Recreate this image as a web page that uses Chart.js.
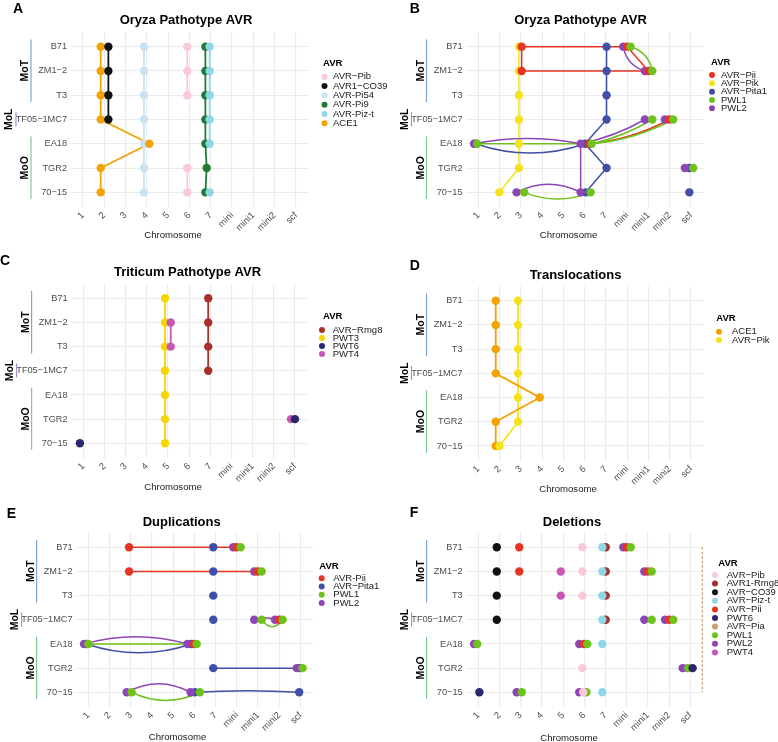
<!DOCTYPE html>
<html>
<head>
<meta charset="utf-8">
<script src="https://cdn.jsdelivr.net/npm/chart.js@4.4.1/dist/chart.umd.min.js"></script>
<style>
html,body{margin:0;padding:0;background:#fff}
#wrap{position:relative;width:778px;height:742px;overflow:hidden}
.panel{position:absolute}
</style>
</head>
<body>
<div id="wrap"></div>
<script>

// =============================
// SHARED AXES
// =============================

const isolates = ['B71','ZM1-2','T3','TF05-1MC7','EA18','TGR2','70-15']
const chromLabels = ['1','2','3','4','5','6','7','mini','mini1','mini2','scf']

const groupNames = ['MoT','MoL','MoO']
const groupFirst = [0,3,4]
const groupLast = [2,3,6]


// =============================
// A : ORYZA PATHOTYPE AVR (one position per isolate)
// =============================

const aPib  = [5.9,5.9,5.9,null,null,5.9,5.9]
const aCO39 = [2.2,2.2,2.2,2.2,null,null,null]
const aPi54 = [3.87,3.87,3.87,3.87,3.87,3.87,3.87]
const aPi9  = [6.75,6.75,6.75,6.75,6.75,6.81,6.75]
const aPizt = [6.95,6.95,6.95,6.95,6.95,null,6.95]
const aACE1 = [1.84,1.84,1.84,1.84,4.12,1.84,1.84]


// =============================
// B : ORYZA PATHOTYPE AVR (copies)
// =============================

const bPii = [['B71',3.04],['ZM1-2',3.04],['B71',8.0],['ZM1-2',9.0],['TF05-1MC7',9.98],['EA18',6.22]]
const bPik = [['B71',2.91],['ZM1-2',2.91],['T3',2.91],['TF05-1MC7',2.91],['EA18',2.91],['TGR2',2.91],['70-15',1.99]]
const bPita1 = [['B71',7.03],['ZM1-2',7.03],['T3',7.03],['TF05-1MC7',7.03],['EA18',0.87],['EA18',6.02],['TGR2',7.03],['TGR2',10.92],['70-15',6.05],['70-15',10.92]]
const bPWL1 = [['B71',8.16],['ZM1-2',9.18],['TF05-1MC7',9.18],['TF05-1MC7',10.16],['EA18',0.95],['EA18',6.33],['TGR2',11.1],['70-15',3.16],['70-15',6.28]]
const bPWL2 = [['B71',7.81],['ZM1-2',8.83],['TF05-1MC7',8.83],['TF05-1MC7',9.77],['EA18',0.8],['EA18',5.81],['TGR2',10.71],['70-15',2.8],['70-15',5.81]]

// [avr, from isolate, from chr, to isolate, to chr, bend]
const bLinks = [
['Pik','B71',2.91,'ZM1-2',2.91,0],
['Pik','ZM1-2',2.91,'T3',2.91,0],
['Pik','T3',2.91,'TF05-1MC7',2.91,0],
['Pik','TF05-1MC7',2.91,'EA18',2.91,0],
['Pik','EA18',2.91,'TGR2',2.91,0],
['Pik','TGR2',2.91,'70-15',1.99,0],
['Pita1','B71',7.03,'ZM1-2',7.03,0],
['Pita1','ZM1-2',7.03,'T3',7.03,0],
['Pita1','T3',7.03,'TF05-1MC7',7.03,0],
['Pita1','TF05-1MC7',7.03,'EA18',6.02,0],
['Pita1','EA18',6.02,'TGR2',7.03,0],
['Pita1','TGR2',7.03,'70-15',6.05,0],
['Pita1','EA18',0.87,'EA18',6.02,-0.17],
['Pii','B71',3.04,'B71',8.0,0],
['Pii','ZM1-2',3.04,'ZM1-2',9.0,0],
['Pii','B71',3.04,'ZM1-2',3.04,0],
['Pii','B71',8.0,'ZM1-2',9.0,0],
['Pii','EA18',6.22,'TF05-1MC7',9.98,-0.1],
['PWL1','B71',8.16,'ZM1-2',9.18,0.3],
['PWL1','EA18',0.95,'EA18',6.33,0],
['PWL1','70-15',3.16,'70-15',6.28,-0.2],
['PWL1','EA18',6.33,'TF05-1MC7',9.18,-0.08],
['PWL1','EA18',6.33,'TF05-1MC7',10.16,-0.1],
['PWL2','B71',7.81,'ZM1-2',8.83,-0.3],
['PWL2','EA18',0.8,'EA18',5.81,0.1],
['PWL2','70-15',2.8,'70-15',5.81,0.25],
['PWL2','EA18',5.81,'TF05-1MC7',8.83,-0.08],
['PWL2','EA18',5.81,'70-15',5.81,0]
]


// =============================
// C : TRITICUM PATHOTYPE AVR
// =============================

const cRmg8 = [6.9,6.9,6.9,6.9,null,null,null]
const cPWT3 = [4.86,4.86,4.86,4.86,4.86,4.86,4.86]
const cPWT6 = [null,null,null,null,null,11.0,0.84]
const cPWT4 = [null,5.13,5.13,null,null,10.81,null]


// =============================
// D : TRANSLOCATIONS
// =============================

const dACE1 = [1.82,1.82,1.82,1.82,3.89,1.82,1.82]
const dPik  = [2.87,2.87,2.87,2.87,2.87,2.87,2.0]


// =============================
// E : DUPLICATIONS
// =============================

const ePii = [['B71',2.92],['B71',7.99],['ZM1-2',2.92],['ZM1-2',8.98],['TF05-1MC7',10.0],['EA18',5.98]]
const ePita1 = [['B71',6.89],['ZM1-2',6.89],['T3',6.89],['TF05-1MC7',6.89],['EA18',0.92],['EA18',5.85],['TGR2',6.89],['TGR2',10.96],['70-15',6.03],['70-15',10.94]]
const ePWL1 = [['B71',8.18],['ZM1-2',9.17],['TF05-1MC7',9.17],['TF05-1MC7',10.16],['EA18',1.0],['EA18',6.11],['TGR2',11.1],['70-15',3.04],['70-15',6.26]]
const ePWL2 = [['B71',7.83],['ZM1-2',8.82],['TF05-1MC7',8.82],['TF05-1MC7',9.8],['EA18',0.8],['EA18',5.67],['TGR2',10.82],['70-15',2.81],['70-15',5.82]]

const eLinks = [
['Pii','B71',2.92,'B71',7.99,0],
['Pii','ZM1-2',2.92,'ZM1-2',8.98,0],
['PWL2','TF05-1MC7',8.82,'TF05-1MC7',9.8,0.2],
['PWL1','TF05-1MC7',9.17,'TF05-1MC7',10.16,-0.66],
['PWL2','EA18',0.8,'EA18',5.67,0.14],
['PWL1','EA18',1.0,'EA18',6.11,0],
['Pita1','EA18',0.92,'EA18',5.85,-0.17],
['Pita1','TGR2',6.89,'TGR2',10.96,0],
['PWL2','70-15',2.81,'70-15',5.82,0.27],
['PWL1','70-15',3.04,'70-15',6.26,-0.24],
['Pita1','70-15',6.03,'70-15',10.94,0.03]
]


// =============================
// F : DELETIONS
// =============================

const fPib = [['B71',5.91],['ZM1-2',5.91],['T3',5.91],['TGR2',5.91],['70-15',5.95]]
const fRmg8 = [['B71',7.01],['ZM1-2',7.01],['T3',7.01],['TF05-1MC7',7.01]]
const fCO39 = [['B71',1.87],['ZM1-2',1.87],['T3',1.87],['TF05-1MC7',1.87]]
const fPizt = [['B71',6.85],['ZM1-2',6.85],['T3',6.85],['TF05-1MC7',6.85],['EA18',6.85],['70-15',6.85]]
const fPii = [['B71',2.93],['ZM1-2',2.93],['B71',8.0],['ZM1-2',8.99],['TF05-1MC7',10.01],['EA18',5.99]]
const fPWT6 = [['TGR2',11.11],['70-15',1.05]]
const fPia = [11.57,11.57,11.57,11.57,11.57,11.57,11.57]
const fPWL1 = [['B71',8.19],['ZM1-2',9.18],['TF05-1MC7',9.18],['TF05-1MC7',10.2],['EA18',0.95],['EA18',6.14],['TGR2',10.91],['70-15',3.05],['70-15',6.1]]
const fPWL2 = [['B71',7.84],['ZM1-2',8.83],['TF05-1MC7',8.83],['TF05-1MC7',9.81],['EA18',0.8],['EA18',5.76],['TGR2',10.64],['70-15',2.81],['70-15',5.76]]
const fPWT4 = [['ZM1-2',4.89],['T3',4.89],['TGR2',10.85]]


// =============================
// STYLE
// =============================

const palette = {
Pib:'#F9C8D9', CO39:'#111111', Pi54:'#C8E3F1', Pi9:'#1F7A35', Pizt:'#8FD7E7', ACE1:'#F3A200',
Pii:'#E63323', Pik:'#F6E11E', Pita1:'#4050A8', PWL1:'#6DC31B', PWL2:'#8E45B6',
Rmg8:'#A7302A', PWT3:'#F7D600', PWT6:'#29286F', PWT4:'#C757B4', Pia:'#C9A06F'
}

const groupColors = ['#7EA6D6','#A98DCB','#80C894']
const FONT = "'Liberation Sans', Arial, Helvetica, sans-serif"

Chart.defaults.font.family = FONT

const panels = [
{
letter:'A', left:0, top:0, w:388, h:248, area:{l:70, r:308.8, t:32.1, b:206.9},
title:'Oryza Pathotype AVR', titleAt:[186,20], letterAt:[13,13.3], xTitleAt:[173,235],
legend:{tx:323, ty:63, cx:324.5, lx:333, y0:76.7, dy:9.33},
links:[],
series:[
{key:'Pib', label:'AVR−Pib', data:aPib, z:1, line:true},
{key:'CO39', label:'AVR1−CO39', data:aCO39, z:6, line:true},
{key:'Pi54', label:'AVR-Pi54', data:aPi54, z:2, line:true},
{key:'Pi9', label:'AVR-Pi9', data:aPi9, z:3, line:true},
{key:'Pizt', label:'AVR-Piz-t', data:aPizt, z:4, line:true},
{key:'ACE1', label:'ACE1', data:aACE1, z:5, line:true}
]
},
{
letter:'B', left:388, top:0, w:390, h:248, area:{l:77.5, r:315.8, t:32.1, b:206.9},
title:'Oryza Pathotype AVR', titleAt:[192.5,20], letterAt:[21.7,12.7], xTitleAt:[180.5,235],
legend:{tx:323, ty:62, cx:324, lx:333, y0:75, dy:8.33},
links:bLinks,
series:[
{key:'Pii', label:'AVR−Pii', data:bPii, z:4},
{key:'Pik', label:'AVR−Pik', data:bPik, z:1},
{key:'Pita1', label:'AVR−Pita1', data:bPita1, z:2},
{key:'PWL1', label:'PWL1', data:bPWL1, z:5},
{key:'PWL2', label:'PWL2', data:bPWL2, z:3}
]
},
{
letter:'C', left:0, top:248, w:388, h:247, area:{l:70.6, r:307.7, t:35.8, b:209.8},
title:'Triticum Pathotype AVR', titleAt:[187.5,24.3], letterAt:[0,17], xTitleAt:[173,239],
legend:{tx:323, ty:68.7, cx:322, lx:332.7, y0:82, dy:8},
links:[],
series:[
{key:'Rmg8', label:'AVR−Rmg8', data:cRmg8, z:1, line:true},
{key:'PWT3', label:'PWT3', data:cPWT3, z:2, line:true},
{key:'PWT6', label:'PWT6', data:cPWT6, z:4},
{key:'PWT4', label:'PWT4', data:cPWT4, z:3, line:true}
]
},
{
letter:'D', left:388, top:248, w:390, h:247, area:{l:77.5, r:315.8, t:38.2, b:212.5},
title:'Translocations', titleAt:[187.5,27], letterAt:[21.7,22], xTitleAt:[180,241],
legend:{tx:328.3, ty:70.3, cx:331, lx:344, y0:83.7, dy:8.3},
links:[],
series:[
{key:'ACE1', label:'ACE1', data:dACE1, z:1, line:true},
{key:'Pik', label:'AVR−Pik', data:dPik, z:2, line:true}
]
},
{
letter:'E', left:0, top:495, w:388, h:247, area:{l:75.6, r:313.2, t:37.8, b:211.8},
title:'Duplications', titleAt:[181.7,27], letterAt:[6.7,23], xTitleAt:[177.5,242],
legend:{tx:319.3, ty:71.7, cx:321.7, lx:333.3, y0:83.3, dy:8.2},
links:eLinks,
series:[
{key:'Pii', label:'AVR-Pii', data:ePii, z:3},
{key:'Pita1', label:'AVR−Pita1', data:ePita1, z:1},
{key:'PWL1', label:'PWL1', data:ePWL1, z:4},
{key:'PWL2', label:'PWL2', data:ePWL2, z:2}
]
},
{
letter:'F', left:388, top:495, w:390, h:247, area:{l:77.6, r:315, t:37.8, b:211.8},
title:'Deletions', titleAt:[184,27], letterAt:[21.7,22], xTitleAt:[181,243],
legend:{tx:330.3, ty:68.3, cx:327, lx:338.7, y0:80, dy:8.6},
links:[],
series:[
{key:'Pib', label:'AVR−Pib', data:fPib, z:8},
{key:'Rmg8', label:'AVR1-Rmg8', data:fRmg8, z:2},
{key:'CO39', label:'AVR−CO39', data:fCO39, z:4},
{key:'Pizt', label:'AVR−Piz-t', data:fPizt, z:3},
{key:'Pii', label:'AVR−Pii', data:fPii, z:6},
{key:'PWT6', label:'PWT6', data:fPWT6, z:9},
{key:'Pia', label:'AVR−Pia', data:fPia, z:0, line:true, dash:true, dots:false},
{key:'PWL1', label:'PWL1', data:fPWL1, z:7},
{key:'PWL2', label:'PWL2', data:fPWL2, z:5},
{key:'PWT4', label:'PWT4', data:fPWT4, z:1}
]
}
]


// =============================
// HELPERS
// =============================

function shown(s){
return s.replace(/-/g,'−')
}

function toPoints(data){
if(Array.isArray(data[0])){
return data.map(p=>({x:p[1], y:isolates.indexOf(p[0])}))
}
return data.map((v,i)=>({x:v, y:i}))
}


// =============================
// DECORATION PLUGIN (links, legend, titles, group brackets)
// =============================

function makeDecor(p){

return {

id:'decor'+p.letter,

beforeDatasetsDraw(chart){

const ctx = chart.ctx
const xs = chart.scales.x
const ys = chart.scales.y

ctx.save()
ctx.lineWidth = 1.5
ctx.lineCap = 'round'

p.links.forEach(l=>{

const x1 = xs.getPixelForValue(l[2])
const y1 = ys.getPixelForValue(isolates.indexOf(l[1]))
const x2 = xs.getPixelForValue(l[4])
const y2 = ys.getPixelForValue(isolates.indexOf(l[3]))

const dx = x2-x1
const dy = y2-y1
const len = Math.hypot(dx,dy)

const cx = (x1+x2)/2 + dy/len*l[5]*len
const cy = (y1+y2)/2 - dx/len*l[5]*len

ctx.strokeStyle = palette[l[0]]
ctx.beginPath()
ctx.moveTo(x1,y1)
ctx.quadraticCurveTo(cx,cy,x2,y2)
ctx.stroke()

})

ctx.restore()

},

afterDraw(chart){

const ctx = chart.ctx
const ys = chart.scales.y
const area = chart.chartArea

ctx.save()

// panel letter
ctx.fillStyle = '#000'
ctx.font = 'bold 14px '+FONT
ctx.textAlign = 'left'
ctx.textBaseline = 'alphabetic'
ctx.fillText(p.letter, p.letterAt[0], p.letterAt[1])

// title
ctx.font = 'bold 13px '+FONT
ctx.textAlign = 'center'
ctx.textBaseline = 'middle'
ctx.fillText(p.title, p.titleAt[0], p.titleAt[1])

// x axis title
ctx.font = '9.6px '+FONT
ctx.fillStyle = '#1a1a1a'
ctx.fillText('Chromosome', p.xTitleAt[0], p.xTitleAt[1])

// legend
const lg = p.legend
ctx.textAlign = 'left'
ctx.fillStyle = '#000'
ctx.font = 'bold 9.5px '+FONT
ctx.fillText('AVR', lg.tx, lg.ty)

ctx.font = '9.5px '+FONT
p.series.forEach((s,i)=>{
const y = lg.y0 + i*lg.dy
ctx.fillStyle = palette[s.key]
ctx.beginPath()
ctx.arc(lg.cx, y, 3, 0, Math.PI*2)
ctx.fill()
ctx.fillStyle = '#1a1a1a'
ctx.fillText(s.label, lg.lx, y)
})

// pathotype brackets
groupNames.forEach((g,i)=>{

const lx = area.left - (g==='MoL' ? 54 : 39)
const y1 = ys.getPixelForValue(groupFirst[i]-0.3)
const y2 = ys.getPixelForValue(groupLast[i]+0.28)

ctx.strokeStyle = groupColors[i]
ctx.lineWidth = 1.2
ctx.beginPath()
ctx.moveTo(lx,y1)
ctx.lineTo(lx,y2)
ctx.stroke()

ctx.save()
ctx.translate(lx - (g==='MoL' ? 6.5 : 5.8), (y1+y2)/2)
ctx.rotate(-Math.PI/2)
ctx.fillStyle = '#000'
ctx.font = 'bold 10.5px '+FONT
ctx.textAlign = 'center'
ctx.textBaseline = 'middle'
ctx.fillText(g,0,0)
ctx.restore()

})

ctx.restore()

}

}

}


// =============================
// BUILD ONE PANEL
// =============================

function buildPanel(p){

const div = document.createElement('div')
div.className = 'panel'
div.style.left = p.left+'px'
div.style.top = p.top+'px'
div.style.width = p.w+'px'
div.style.height = p.h+'px'

const canvas = document.createElement('canvas')
canvas.width = p.w
canvas.height = p.h
div.appendChild(canvas)
document.getElementById('wrap').appendChild(div)

const datasets = []

p.series.forEach(s=>{

const pts = toPoints(s.data)

if(s.line){
datasets.push({
data:pts,
showLine:true,
spanGaps:false,
pointRadius:0,
borderColor:palette[s.key],
borderWidth:s.dash ? 1.3 : 1.8,
borderDash:s.dash ? [2.5,2] : [],
order:100
})
}

if(s.dots !== false){
datasets.push({
data:pts.filter(q=>q.x !== null),
showLine:false,
pointRadius:4.2,
pointHoverRadius:4.2,
pointBorderWidth:0,
backgroundColor:palette[s.key],
borderColor:palette[s.key],
order:50 - s.z
})
}

})

const a = p.area

new Chart(canvas,{

type:'scatter',

data:{datasets},

options:{
responsive:false,
animation:false,
events:[],
devicePixelRatio:1,
layout:{padding:{left:0, top:a.t, right:p.w - a.r, bottom:0}},
plugins:{
legend:{display:false},
tooltip:{enabled:false},
title:{display:false}
},
scales:{
x:{
type:'linear',
min:0.4,
max:11.6,
border:{display:false},
grid:{color:'#ebebeb', lineWidth:1.1, drawTicks:false},
ticks:{
autoSkip:false,
minRotation:45,
maxRotation:45,
padding:3,
color:'#4d4d4d',
font:{size:9.3},
callback:v=>chromLabels[v-1]
},
afterBuildTicks:s=>{ s.ticks = chromLabels.map((c,i)=>({value:i+1})) },
afterFit:s=>{ s.height = p.h - a.b }
},
y:{
type:'linear',
reverse:true,
min:-0.6,
max:6.6,
border:{display:false},
grid:{color:'#ebebeb', lineWidth:1.1, drawTicks:false},
ticks:{
autoSkip:false,
padding:3,
color:'#4d4d4d',
font:{size:9.2},
callback:v=>shown(isolates[v])
},
afterBuildTicks:s=>{ s.ticks = isolates.map((c,i)=>({value:i})) },
afterFit:s=>{ s.width = a.l }
}
}
},

plugins:[makeDecor(p)]

})

}


// =============================
// INITIALIZE FIGURE
// =============================

panels.forEach(buildPanel)

</script>
</body>
</html>
